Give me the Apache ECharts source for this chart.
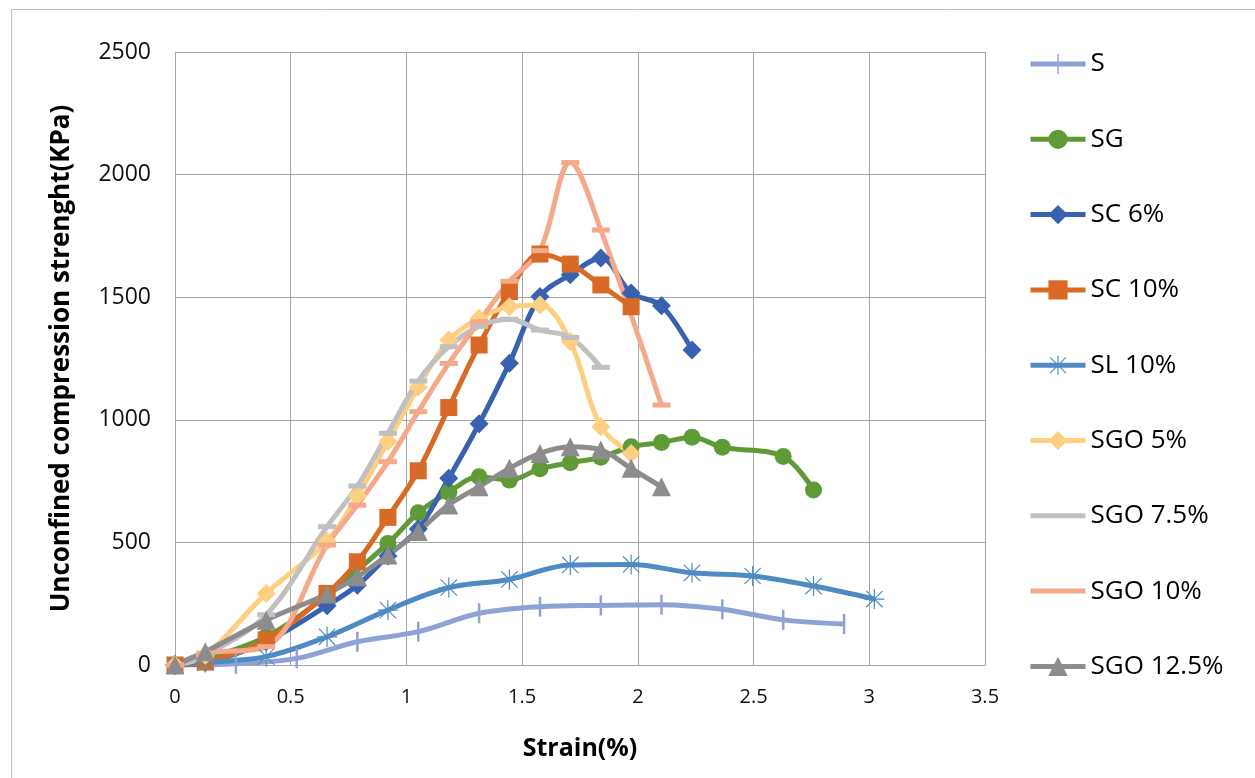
<!DOCTYPE html>
<html>
<head>
<meta charset="utf-8">
<script src="https://cdn.jsdelivr.net/npm/echarts@6/dist/echarts.min.js"></script>
<style>
html,body{margin:0;padding:0;background:#fff;}
#chart{width:1255px;height:778px;}
</style>
</head>
<body>
<div id="chart"></div>
<script>
// ---- data (strain %, strength kPa) ----
const seriesNames = ['S','SG','SC 6%','SC 10%','SL 10%','SGO 5%','SGO 7.5%','SGO 10%','SGO 12.5%'];
const xTicks = ['0','0.5','1','1.5','2','2.5','3','3.5'];
const yTicks = ['0','500','1000','1500','2000','2500'];

const S_x = [0, 0.263, 0.526, 0.788, 1.051, 1.314, 1.577, 1.840, 2.102, 2.365, 2.628, 2.891];
const S_y = [0, 5, 27, 95, 136, 211, 238, 243, 246, 227, 184, 167];

const SG_x = [0, 0.131, 0.394, 0.657, 0.920, 1.051, 1.183, 1.314, 1.445, 1.577, 1.708, 1.840, 1.971, 2.102, 2.234, 2.365, 2.628, 2.759];
const SG_y = [0, 25, 115, 285, 496, 621, 705, 768, 754, 800, 825, 847, 890, 907, 929, 888, 850, 714];

const SC6_x = [0, 0.131, 0.394, 0.657, 0.788, 0.920, 1.051, 1.183, 1.314, 1.445, 1.577, 1.708, 1.840, 1.971, 2.102, 2.234];
const SC6_y = [0, 10, 95, 242, 325, 445, 555, 762, 984, 1231, 1503, 1592, 1660, 1517, 1465, 1285];

const SC10_x = [0, 0.131, 0.394, 0.657, 0.788, 0.920, 1.051, 1.183, 1.314, 1.445, 1.577, 1.708, 1.840, 1.971];
const SC10_y = [0, 12, 102, 292, 421, 602, 792, 1050, 1305, 1523, 1676, 1635, 1550, 1461];

const SL_x = [0, 0.131, 0.394, 0.657, 0.920, 1.183, 1.445, 1.708, 1.971, 2.234, 2.496, 2.759, 3.022];
const SL_y = [0, 10, 34, 115, 224, 316, 349, 408, 410, 376, 363, 322, 269];

const SGO5_x = [0, 0.131, 0.394, 0.657, 0.788, 0.920, 1.051, 1.183, 1.314, 1.445, 1.577, 1.708, 1.840, 1.971];
const SGO5_y = [0, 40, 292, 505, 690, 911, 1133, 1325, 1414, 1461, 1468, 1319, 972, 863];

const SGO75_x = [0, 0.131, 0.394, 0.657, 0.788, 0.920, 1.051, 1.183, 1.314, 1.445, 1.577, 1.708, 1.840];
const SGO75_y = [0, 40, 205, 564, 730, 945, 1158, 1298, 1381, 1410, 1366, 1336, 1214];

const SGO10_x = [0, 0.131, 0.394, 0.657, 0.788, 0.920, 1.051, 1.183, 1.314, 1.445, 1.577, 1.708, 1.840, 2.102];
const SGO10_y = [0, 48, 75, 489, 652, 829, 1033, 1230, 1400, 1565, 1690, 2049, 1774, 1060];

const SGO125_x = [0, 0.131, 0.394, 0.657, 0.788, 0.920, 1.051, 1.183, 1.314, 1.445, 1.577, 1.708, 1.840, 1.971, 2.102];
const SGO125_y = [0, 54, 183, 290, 360, 449, 544, 653, 727, 802, 863, 890, 877, 802, 727];

// ---- styling ----
const FONT = '"Open Sans", "Noto Sans", sans-serif';
const colors = ['#8fa2d5','#5e9a36','#3862b0','#d86a25','#4f8bc3','#fecf80','#c0c0c0','#f3a98a','#8c8c8c'];

const starPath = 'path://M9.4,0 L10.6,0 L10.6,20 L9.4,20 Z M0,9.4 L20,9.4 L20,10.6 L0,10.6 Z ' +
                 'M2.2,1.4 L18.6,17.8 L17.8,18.6 L1.4,2.2 Z M17.8,1.4 L18.6,2.2 L2.2,18.6 L1.4,17.8 Z';

const symbols = ['rect','circle','diamond','rect',starPath,'diamond','rect','rect','triangle'];
const symbolSizes = [[2.5,20],17,19,17,20,19,[18,5],[18,5],19];

// legend icons (line only / line with tick) for series whose markers would look wrong as squares
const lineOnlyIcon = 'path://M0,7.5 L55,7.5 L55,12.5 L0,12.5 Z M0,0 L0.01,0 L0.01,0.01 Z M0,20 L0.01,20 L0.01,19.99 Z';
const tickIcon = 'path://M0,7.5 L55,7.5 L55,12.5 L0,12.5 Z M26.8,0 L28.2,0 L28.2,20 L26.8,20 Z';
const legendIcons = {'S': tickIcon, 'SGO 7.5%': lineOnlyIcon, 'SGO 10%': lineOnlyIcon};

function zip(xs, ys){ return xs.map((x,i)=>[x, ys[i]]); }
const dataSets = [
  zip(S_x,S_y), zip(SG_x,SG_y), zip(SC6_x,SC6_y), zip(SC10_x,SC10_y), zip(SL_x,SL_y),
  zip(SGO5_x,SGO5_y), zip(SGO75_x,SGO75_y), zip(SGO10_x,SGO10_y), zip(SGO125_x,SGO125_y)
];

const series = seriesNames.map((name,i)=>({
  name: name,
  type: 'line',
  data: dataSets[i],
  smooth: 0.35,
  symbol: symbols[i],
  symbolSize: symbolSizes[i],
  showAllSymbol: true,
  lineStyle: {width: 5, color: colors[i]},
  itemStyle: {color: colors[i]},
  emphasis: {disabled: true},
  animation: false
}));

const chart = echarts.init(document.getElementById('chart'), null, {renderer: 'canvas'});
chart.setOption({
  animation: false,
  color: colors,
  graphic: [{
    type: 'rect', left: 9, top: 7, z: -10,
    shape: {width: 1244, height: 790},
    style: {fill: 'none', stroke: '#bfbfbf', lineWidth: 1}
  }],
  grid: {left: 175, top: 52, width: 810, height: 613, containLabel: false},
  xAxis: {
    type: 'value', min: 0, max: 3.5, interval: 0.5,
    name: 'Strain(%)', nameLocation: 'middle', nameGap: 71,
    nameTextStyle: {fontFamily: FONT, fontWeight: 'bold', fontSize: 25, color: '#000'},
    axisLine: {show: true, lineStyle: {color: '#a6a6a6', width: 1}},
    axisTick: {show: false},
    axisLabel: {fontFamily: FONT, fontSize: 20, color: '#111', margin: 22,
      formatter: v => xTicks[Math.round(v/0.5)] ?? String(v)},
    splitLine: {show: true, lineStyle: {color: '#a6a6a6', width: 1}}
  },
  yAxis: {
    type: 'value', min: 0, max: 2500, interval: 500,
    name: 'Unconfined compression strenght(KPa)', nameLocation: 'middle', nameGap: 100, nameRotate: 90,
    nameTextStyle: {fontFamily: FONT, fontWeight: 'bold', fontSize: 26, color: '#000'},
    axisLine: {show: true, lineStyle: {color: '#a6a6a6', width: 1}},
    axisTick: {show: false},
    axisLabel: {fontFamily: FONT, fontSize: 23, color: '#111', margin: 24,
      formatter: v => yTicks[Math.round(v/500)] ?? String(v)},
    splitLine: {show: true, lineStyle: {color: '#a6a6a6', width: 1}}
  },
  legend: {
    orient: 'vertical', left: 1028, top: 50, padding: 0,
    itemWidth: 55, itemHeight: 24, itemGap: 47.3, itemTextGap: 5,
    symbolKeepAspect: true,
    lineStyle: {width: 5},
    textStyle: {fontFamily: FONT, fontSize: 26, color: '#000', lineHeight: 28},
    data: seriesNames.map(n => legendIcons[n] ? {name: n, icon: legendIcons[n]} : {name: n})
  },
  series: series
});
</script>
</body>
</html>
